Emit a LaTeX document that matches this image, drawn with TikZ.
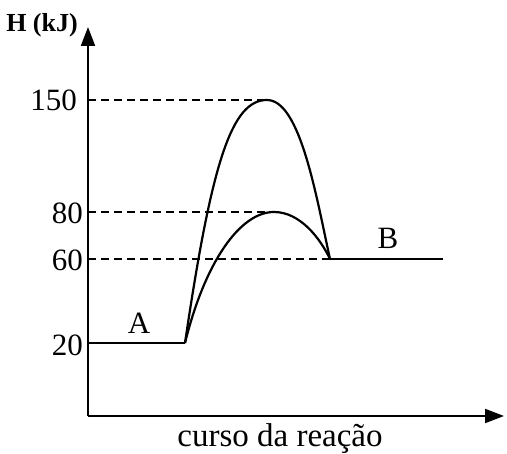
\documentclass[tikz,border=0pt]{standalone}
\usepackage{fontspec}
\setmainfont{Liberation Serif}
\usetikzlibrary{arrows.meta}
\begin{document}
\begin{tikzpicture}[x=1pt,y=-1pt,
  axis/.style={line width=2pt,-{Triangle[length=19pt,width=14pt]}},
  curve/.style={line width=2.2pt},
  guide/.style={line width=1.6pt,dash pattern=on 8pt off 5pt},
  lvl/.style={font=\fontsize{31}{31}\selectfont,inner sep=0pt},
  tick/.style={font=\fontsize{31}{31}\selectfont,inner sep=0pt,anchor=east}]
\useasboundingbox (0,0) rectangle (507,454);
\coordinate (O) at (88,416);
\coordinate (ytop) at (88,27);
\coordinate (xend) at (504,416);
\coordinate (a0) at (88,343);
\coordinate (a1) at (185,343);
\coordinate (p1) at (267,100);
\coordinate (p2) at (274,212);
\coordinate (b0) at (330,259);
\coordinate (b1) at (443,259);
\coordinate (y150) at (88,100);
\coordinate (y80) at (88,212);
\coordinate (y60) at (88,259);
% axes
\draw[axis] (O) -- (ytop);
\draw[axis] (O) -- (xend);
% guides
\draw[guide] (y150) -- (p1);
\draw[guide] (y80) -- (p2);
\draw[guide] (y60) -- (b0);
% levels
\draw[curve] (a0) -- (a1);
\draw[curve] (b0) -- (b1);
% curves
\draw[curve] (a1) .. controls (212,160) and (232,100) .. (p1)
  .. controls (300,100) and (316,195) .. (b0);
\draw[curve] (a1) .. controls (205,262) and (240,212) .. (p2)
  .. controls (300,212) and (320,238) .. (b0);
% labels
\node[font=\fontsize{26}{26}\selectfont\bfseries,inner sep=0pt] (hl) at (42,25) {H (kJ)};
\node[tick] (t150) at (77,100) {150};
\node[tick] (t80) at (83,213) {80};
\node[tick] (t60) at (83,260) {60};
\node[tick] (t20) at (83,345) {20};
\node[lvl] (A) at (139,323) {A};
\node[lvl] (B) at (388,238) {B};
\node[font=\fontsize{33}{33}\selectfont,inner sep=0pt] (xl) at (280,439) {curso da reação};
\end{tikzpicture}
\end{document}
